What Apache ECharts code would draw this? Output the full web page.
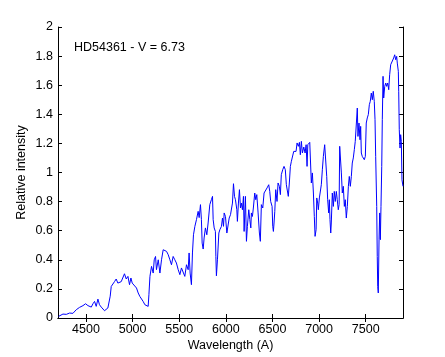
<!DOCTYPE html>
<html><head><meta charset="utf-8">
<script src="https://cdn.jsdelivr.net/npm/echarts@6/dist/echarts.min.js"></script>
<style>html,body{margin:0;padding:0;background:#fff}#c{width:445px;height:357px}</style>
</head><body><div id="c"></div>
<script>
var wavelength = [4206,4253,4289,4324,4360,4396,4431,4468,4496,4521,4538,4557,4575,4592,4610,4628,4645,4664,4682,4699,4717,4735,4746,4760,4771,4789,4806,4824,4842,4860,4878,4896,4913,4932,4950,4967,4982,4996,5017,5042,5060,5078,5095,5113,5132,5149,5167,5175,5186,5203,5221,5232,5246,5256,5275,5293,5310,5328,5346,5364,5382,5400,5417,5435,5453,5470,5489,5507,5524,5542,5560,5578,5596,5606,5617,5631,5642,5653,5668,5685,5703,5714,5728,5738,5746,5757,5767,5781,5796,5810,5828,5845,5857,5864,5875,5888,5893,5899,5910,5925,5936,5953,5964,5975,5982,5996,6011,6025,6036,6050,6060,6071,6082,6093,6103,6118,6124,6135,6146,6157,6167,6178,6189,6196,6210,6221,6231,6246,6257,6268,6274,6285,6295,6310,6321,6332,6346,6360,6370,6381,6396,6410,6428,6442,6460,6471,6481,6496,6503,6510,6517,6525,6535,6549,6560,6574,6585,6595,6610,6624,6638,6649,6660,6670,6681,6692,6703,6718,6728,6739,6753,6764,6778,6789,6799,6810,6821,6836,6850,6861,6871,6879,6889,6900,6911,6917,6928,6939,6949,6957,6968,6975,6985,6992,7003,7013,7024,7035,7046,7060,7071,7082,7092,7103,7110,7117,7125,7131,7142,7153,7163,7174,7185,7195,7206,7215,7221,7232,7239,7249,7260,7271,7281,7292,7303,7314,7324,7335,7346,7356,7367,7378,7388,7399,7410,7417,7428,7439,7446,7453,7463,7474,7485,7496,7506,7517,7528,7539,7549,7560,7571,7581,7592,7600,7607,7618,7624,7629,7635,7643,7650,7657,7664,7672,7678,7686,7693,7704,7715,7725,7736,7747,7757,7768,7779,7789,7800,7811,7822,7832,7839,7850,7854,7860,7868,7875,7882,7889,7900];
var intensity = [0.011,0.027,0.025,0.034,0.032,0.057,0.073,0.085,0.098,0.085,0.098,0.075,0.098,0.114,0.080,0.130,0.091,0.075,0.064,0.050,0.062,0.069,0.080,0.150,0.217,0.229,0.250,0.268,0.240,0.229,0.250,0.263,0.304,0.268,0.286,0.229,0.275,0.240,0.229,0.206,0.172,0.148,0.137,0.114,0.091,0.103,0.080,0.160,0.286,0.355,0.309,0.400,0.423,0.332,0.400,0.309,0.400,0.469,0.481,0.458,0.435,0.400,0.366,0.423,0.400,0.378,0.332,0.298,0.344,0.332,0.286,0.366,0.332,0.447,0.309,0.229,0.447,0.572,0.630,0.676,0.733,0.690,0.779,0.676,0.515,0.474,0.550,0.619,0.572,0.653,0.779,0.813,0.836,0.676,0.619,0.595,0.423,0.290,0.400,0.584,0.607,0.630,0.687,0.630,0.722,0.698,0.584,0.572,0.687,0.710,0.698,0.790,0.923,0.836,0.813,0.744,0.664,0.790,0.882,0.756,0.790,0.744,0.836,0.595,0.836,0.527,0.630,0.744,0.676,0.619,0.722,0.698,0.756,0.859,0.813,0.848,0.722,0.584,0.527,0.779,0.756,0.859,0.848,0.894,0.916,0.870,0.801,0.767,0.630,0.595,0.653,0.733,0.882,0.801,0.928,0.905,0.848,0.985,1.019,1.042,1.019,0.916,0.905,0.836,0.928,1.042,1.077,1.088,1.145,1.157,1.145,1.203,1.180,1.207,1.122,1.214,1.134,1.175,1.134,1.191,1.042,1.191,1.180,1.207,1.203,0.928,0.997,0.859,0.698,0.561,0.607,0.825,0.790,0.744,0.825,0.836,0.916,1.019,1.111,1.191,1.180,0.973,0.813,0.722,0.813,0.676,0.584,0.653,0.859,0.767,0.870,0.801,0.870,0.813,0.744,0.780,1.180,1.191,0.997,0.859,0.905,0.767,0.813,0.687,0.767,0.905,0.973,0.905,0.973,1.065,1.100,1.157,1.214,1.225,1.443,1.248,1.340,1.225,1.317,1.134,1.111,1.122,1.088,1.111,1.340,1.375,1.398,1.466,1.489,1.546,1.500,1.558,1.489,1.363,1.111,0.767,0.423,0.217,0.172,0.538,0.722,0.538,0.767,1.042,1.363,1.661,1.512,1.592,1.615,1.592,1.615,1.569,1.672,1.741,1.729,1.752,1.787,1.809,1.775,1.798,1.752,1.695,1.558,1.294,1.168,1.260,1.214,0.950,0.905];
var xTicks = [4500,5000,5500,6000,6500,7000,7500];
var yTicks = [0,0.2,0.4,0.6,0.8,1,1.2,1.4,1.6,1.8,2];
var starLabel = 'HD54361 - V = 6.73';
var xLabel = 'Wavelength (A)';
var yLabel = 'Relative intensity';

var font = 'Liberation Sans, Arial, sans-serif';
var pts = wavelength.map(function(w,i){return [w,intensity[i]];});
var chart = echarts.init(document.getElementById('c'), null, {renderer:'canvas'});
var axLine = {show:true, lineStyle:{color:'#000', width:1}};
chart.setOption({
  animation:false,
  backgroundColor:'#fff',
  grid:{left:58, right:42, top:27, bottom:39, containLabel:false},
  xAxis:[{
    type:'value', min:4200, max:7900, position:'bottom',
    axisLine:axLine, splitLine:{show:false},
    axisTick:{show:true, inside:true, length:4, customValues:xTicks, lineStyle:{color:'#000'}},
    axisLabel:{customValues:xTicks, color:'#000', fontFamily:font, fontSize:12.5, margin:5,
      formatter:function(v){return String(v);}},
    name:xLabel, nameLocation:'middle', nameGap:21, nameMoveOverlap:false,
    nameTextStyle:{color:'#000', fontFamily:font, fontSize:12.5}
  },{
    type:'value', min:4200, max:7900, position:'top',
    axisLine:axLine, splitLine:{show:false},
    axisTick:{show:true, inside:true, length:4, customValues:xTicks, lineStyle:{color:'#000'}},
    axisLabel:{show:false}
  }],
  yAxis:[{
    type:'value', min:0, max:2, position:'left',
    axisLine:axLine, splitLine:{show:false},
    axisTick:{show:true, inside:true, length:4, customValues:yTicks, lineStyle:{color:'#000'}},
    axisLabel:{customValues:yTicks, color:'#000', fontFamily:font, fontSize:12.5, margin:5,
      formatter:function(v){return String(v);}},
    name:yLabel, nameLocation:'middle', nameGap:30, nameMoveOverlap:false,
    nameTextStyle:{color:'#000', fontFamily:font, fontSize:12.5}
  },{
    type:'value', min:0, max:2, position:'right',
    axisLine:axLine, splitLine:{show:false},
    axisTick:{show:true, inside:true, length:4, customValues:yTicks, lineStyle:{color:'#000'}},
    axisLabel:{show:false}
  }],
  graphic:[{
    type:'text', left:74, top:41,
    style:{text:starLabel, fill:'#000', font:'12.5px '+font}
  }],
  series:[{
    type:'line', data:pts, xAxisIndex:0, yAxisIndex:0,
    showSymbol:false, symbol:'none',
    lineStyle:{color:'#0000ff', width:1},
    z:1
  }]
});
</script></body></html>
